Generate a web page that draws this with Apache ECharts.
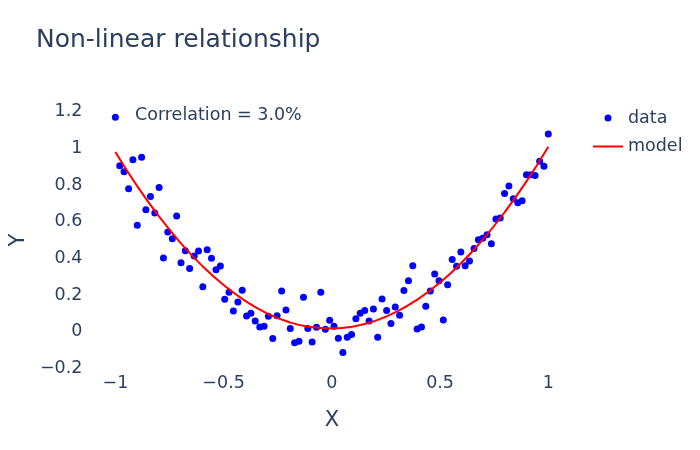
<!DOCTYPE html>
<html>
<head>
<meta charset="utf-8">
<script src="https://cdn.jsdelivr.net/npm/echarts@6/dist/echarts.min.js"></script>
<style>
  html, body { margin: 0; padding: 0; background: #fff; }
  #chart { width: 700px; height: 450px; }
</style>
</head>
<body>
<div id="chart"></div>
<script>
var xs = [
  -1.000, -0.980, -0.960, -0.939, -0.919, -0.899, -0.879, -0.859, -0.838, -0.818,
  -0.798, -0.778, -0.758, -0.737, -0.717, -0.697, -0.677, -0.657, -0.636, -0.616,
  -0.596, -0.576, -0.556, -0.535, -0.515, -0.495, -0.475, -0.455, -0.434, -0.414,
  -0.394, -0.374, -0.354, -0.333, -0.313, -0.293, -0.273, -0.253, -0.232, -0.212,
  -0.192, -0.172, -0.152, -0.131, -0.111, -0.091, -0.071, -0.051, -0.030, -0.010,
  0.010, 0.030, 0.051, 0.071, 0.091, 0.111, 0.131, 0.152, 0.172, 0.192,
  0.212, 0.232, 0.253, 0.273, 0.293, 0.313, 0.333, 0.354, 0.374, 0.394,
  0.414, 0.434, 0.455, 0.475, 0.495, 0.515, 0.535, 0.556, 0.576, 0.596,
  0.616, 0.636, 0.657, 0.677, 0.697, 0.717, 0.737, 0.758, 0.778, 0.798,
  0.818, 0.838, 0.859, 0.879, 0.899, 0.919, 0.939, 0.960, 0.980, 1.000
];

var ys = [
  1.170, 0.905, 0.872, 0.779, 0.938, 0.580, 0.952, 0.665, 0.738, 0.647,
  0.787, 0.402, 0.544, 0.507, 0.631, 0.376, 0.442, 0.344, 0.413, 0.440,
  0.245, 0.447, 0.400, 0.338, 0.358, 0.177, 0.215, 0.113, 0.162, 0.226,
  0.086, 0.100, 0.058, 0.026, 0.030, 0.084, -0.038, 0.087, 0.222, 0.118,
  0.017, -0.061, -0.052, 0.188, 0.017, -0.056, 0.024, 0.215, 0.013, 0.062,
  0.030, -0.036, -0.114, -0.030, -0.016, 0.071, 0.100, 0.115, 0.058, 0.124,
  -0.030, 0.178, 0.115, 0.044, 0.135, 0.090, 0.224, 0.278, 0.360, 0.015,
  0.026, 0.139, 0.222, 0.315, 0.278, 0.064, 0.256, 0.393, 0.357, 0.434,
  0.360, 0.385, 0.453, 0.502, 0.509, 0.529, 0.480, 0.614, 0.620, 0.754,
  0.794, 0.725, 0.703, 0.714, 0.856, 0.856, 0.852, 0.930, 0.903, 1.078
];

// fitted curve
var modelX = [-1, -0.9, -0.8, -0.7, -0.6, -0.5, -0.4, -0.3, -0.2, -0.1, 0,
              0.1, 0.2, 0.3, 0.4, 0.5, 0.6, 0.7, 0.8, 0.9, 1];
var modelY = [0.980, 0.795, 0.631, 0.486, 0.360, 0.254, 0.168, 0.100, 0.053, 0.025, 0.017,
              0.028, 0.059, 0.109, 0.179, 0.268, 0.377, 0.506, 0.654, 0.821, 1.009];

var textColor = '#2a3f5f';
var fontFam = 'DejaVu Sans, Verdana, sans-serif';

function minus(v) {
  return String(v).replace('-', '\u2212');
}

var dataPts = [];
for (var i = 0; i < xs.length; i++) {
  dataPts.push([xs[i], ys[i]]);
}
var modelPts = [];
for (var i = 0; i < modelX.length; i++) {
  modelPts.push([modelX[i], modelY[i]]);
}

var chart = echarts.init(document.getElementById('chart'));
chart.setOption({
  animation: false,
  backgroundColor: '#fff',
  textStyle: { fontFamily: fontFam, color: textColor },
  title: [
    {
      text: 'Non-linear relationship',
      left: 36, top: 28, padding: 0,
      textStyle: { fontFamily: fontFam, fontSize: 25, fontWeight: 'normal', color: textColor }
    },
    {
      text: 'Correlation = 3.0%',
      left: 135, top: 106, padding: 0,
      textStyle: { fontFamily: fontFam, fontSize: 17.5, fontWeight: 'normal', color: textColor }
    }
  ],
  legend: {
    orient: 'vertical',
    left: 592, top: 109, padding: 0,
    itemWidth: 30, itemHeight: 7, itemGap: 10.5,
    textStyle: { fontFamily: fontFam, fontSize: 17.5, color: textColor },
    data: [
      { name: 'data', icon: 'circle' },
      { name: 'model', itemStyle: { opacity: 0 } }
    ]
  },
  grid: { left: 112.7, right: 151.7, top: 111.7, bottom: 81.7 },
  xAxis: {
    type: 'value',
    min: -1, max: 1, interval: 0.5,
    name: 'X', nameLocation: 'middle', nameGap: 42,
    nameTextStyle: { fontFamily: fontFam, fontSize: 21, color: textColor },
    axisLine: { show: false }, axisTick: { show: false }, splitLine: { show: false },
    axisLabel: { margin: 6, fontSize: 17.5, color: textColor, fontFamily: fontFam, formatter: minus }
  },
  yAxis: {
    type: 'value',
    min: -0.2, max: 1.2, interval: 0.2,
    name: 'Y', nameLocation: 'middle', nameGap: 86,
    nameTextStyle: { fontFamily: fontFam, fontSize: 21, color: textColor },
    axisLine: { show: false }, axisTick: { show: false }, splitLine: { show: false },
    axisLabel: {
      margin: 33, fontSize: 17.5, color: textColor, fontFamily: fontFam,
      formatter: function (v) { return minus(Math.round(v * 10) / 10); }
    }
  },
  series: [
    {
      name: 'data', type: 'scatter',
      data: dataPts, symbolSize: 7, clip: false,
      itemStyle: { color: '#0000ff', opacity: 1 }
    },
    {
      name: 'model', type: 'line',
      data: modelPts, smooth: true, symbol: 'none', clip: false,
      lineStyle: { color: '#ff0000', width: 2 },
      itemStyle: { color: '#ff0000' }
    }
  ]
});
</script>
</body>
</html>
